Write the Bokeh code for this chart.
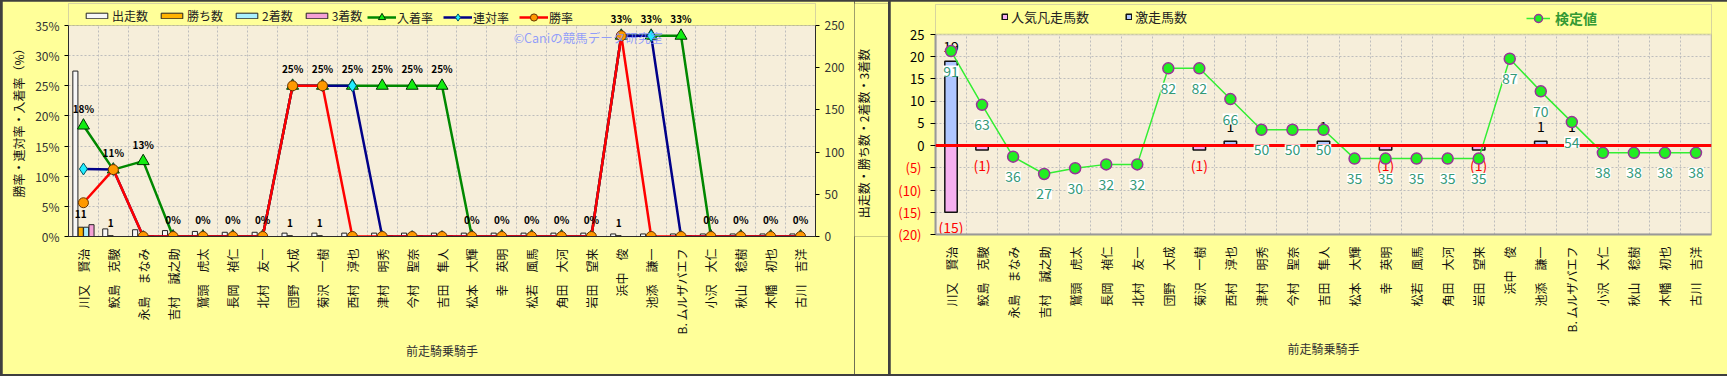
import math
from bokeh.plotting import figure
from bokeh.models import (ColumnDataSource, Range1d, FactorRange, LinearAxis,
                          FixedTicker, Legend, LegendItem, LabelSet, Label, Span,
                          PrintfTickFormatter, BoxAnnotation)
from bokeh.layouts import row
from bokeh.transform import dodge
from bokeh.embed import file_html
from bokeh.resources import INLINE
from bokeh.core.properties import value

JP = "Noto Sans CJK JP"

# ---------------- data ----------------
jockeys = ["川又　賢治", "鮫島　克駿", "永島　まなみ", "吉村　誠之助", "鷲頭　虎太",
           "長岡　禎仁", "北村　友一", "団野　大成", "菊沢　一樹", "西村　淳也",
           "津村　明秀", "今村　聖奈", "吉田　隼人", "松本　大輝", "幸　英明",
           "松若　風馬", "角田　大河", "岩田　望来", "浜中　俊", "池添　謙一",
           "B. ムルザバエフ", "小沢　大仁", "秋山　稔樹", "木幡　初也", "古川　吉洋"]

starts = [196, 9, 8, 7, 6, 5, 5, 4, 4, 4, 4, 4, 4, 4, 4, 4, 4, 4, 3, 3, 3, 3, 3, 3, 3]
wins = [11, 1, 0, 0, 0, 0, 0, 1, 1, 0, 0, 0, 0, 0, 0, 0, 0, 0, 1, 0, 0, 0, 0, 0, 0]
seconds = [11, 0, 0, 0, 0, 0, 0, 0, 0, 1, 0, 0, 0, 0, 0, 0, 0, 0, 0, 1, 0, 0, 0, 0, 0]
thirds = [14, 0, 1, 0, 0, 0, 0, 0, 0, 0, 1, 1, 1, 0, 0, 0, 0, 0, 0, 0, 1, 0, 0, 0, 0]

win_rate = [5.6, 11.1, 0, 0, 0, 0, 0, 25, 25, 0, 0, 0, 0, 0, 0, 0, 0, 0, 33.3, 0, 0, 0, 0, 0, 0]
quinella_rate = [11.2, 11.1, 0, 0, 0, 0, 0, 25, 25, 25, 0, 0, 0, 0, 0, 0, 0, 0, 33.3, 33.3, 0, 0, 0, 0, 0]
show_rate = [18.4, 11.1, 12.5, 0, 0, 0, 0, 25, 25, 25, 25, 25, 25, 0, 0, 0, 0, 0, 33.3, 33.3, 33.3, 0, 0, 0, 0]

kentei = [91, 63, 36, 27, 30, 32, 32, 82, 82, 66, 50, 50, 50, 35, 35, 35, 35, 35, 87, 70, 54, 38, 38, 38, 38]
gekisou = [19, 0, 0, 0, 0, 0, 0, 0, 0, 1, 0, 0, 1, 0, 0, 0, 0, 0, 0, 1, 1, 0, 0, 0, 0]
bonsou = [15, 1, 0, 0, 0, 0, 0, 0, 1, 0, 0, 0, 0, 0, 1, 0, 0, 1, 0, 0, 0, 0, 0, 0, 0]

pct_ticks = [0, 5, 10, 15, 20, 25, 30, 35]
count_ticks = [0, 50, 100, 150, 200, 250]
score_ticks = [-20, -15, -10, -5, 0, 5, 10, 15, 20, 25]
kentei_span = (-4.5, 99.6)   # hidden scale of the 検定値 line

PANEL = "#FFFF99"
PLOT_BG = "#F6EEDA"
GRID = "#BDBDBD"
n = len(jockeys)
C_START, C_WIN, C_2ND, C_3RD = "#F7F7F7", "#FFB300", "#A9F0FF", "#F5A0D5"


def extend(lo, hi, plot_px, extra_px):
    """range end so that [lo, hi] fills plot_px and extra_px of headroom remain above"""
    return hi + (hi - lo) * extra_px / plot_px


def leg(items, loc, gw, gh, lh, spacing, standoff, size, color, style="normal"):
    return Legend(items=items, orientation="horizontal", location=loc,
                  glyph_width=gw, glyph_height=gh, label_height=lh,
                  spacing=spacing, label_standoff=standoff, padding=0, margin=0,
                  background_fill_alpha=0, border_line_alpha=0,
                  label_text_font=JP, label_text_font_size=size,
                  label_text_color=color, label_text_font_style=style)


# ---------------- left chart ----------------
P1_PLOT, P1_HEAD = 211, 22
P1_TOP, P1_BOTTOM = 2, 138
src = ColumnDataSource(dict(
    jockey=jockeys, starts=starts, wins=wins, seconds=seconds, thirds=thirds,
    win_rate=win_rate, quin_rate=quinella_rate, show_rate=show_rate,
    show_lbl=[f"{int(r + 0.5)}%" for r in show_rate]))
wi = [i for i, w in enumerate(wins) if w > 0]
win_src = ColumnDataSource(dict(jockey=[jockeys[i] for i in wi],
                                wins=[wins[i] for i in wi],
                                lbl=[str(wins[i]) for i in wi]))

p1 = figure(width=852, height=373, x_range=FactorRange(factors=jockeys),
            y_range=Range1d(0, extend(0, 35, P1_PLOT, P1_HEAD)),
            output_backend="svg", toolbar_location=None,
            min_border_left=66, min_border_right=39, min_border_top=P1_TOP,
            min_border_bottom=P1_BOTTOM, background_fill_color=PLOT_BG,
            border_fill_color=PANEL, outline_line_color=None)
p1.title.visible = False
p1.extra_y_ranges = {"cnt": Range1d(0, extend(0, 250, P1_PLOT, P1_HEAD))}

p1.xgrid.ticker = FixedTicker(ticks=list(range(n + 1)))
p1.ygrid.ticker = FixedTicker(ticks=pct_ticks)
for g in (p1.xgrid, p1.ygrid):
    g.grid_line_color = GRID
    g.grid_line_dash = "2 2"

p1.yaxis.ticker = FixedTicker(ticks=pct_ticks)
p1.yaxis.bounds = (0, 35)
p1.yaxis.formatter = PrintfTickFormatter(format="%d%%")
p1.yaxis.axis_label = "勝率・連対率・入着率（%）"
p1.yaxis.minor_tick_line_color = None
p1.yaxis.major_tick_in = 0
p1.yaxis.major_tick_out = 4

ax_r = LinearAxis(y_range_name="cnt", ticker=FixedTicker(ticks=count_ticks),
                  bounds=(0, 250))
ax_r.major_tick_in = 0
ax_r.major_tick_out = 4
ax_r.minor_tick_line_color = None
p1.add_layout(ax_r, "right")

p1.xaxis.axis_label = "前走騎乗騎手"
p1.xaxis.major_label_orientation = math.pi / 2
p1.xaxis.major_tick_line_color = None
p1.xaxis.major_label_standoff = 6

for ax in p1.yaxis + p1.xaxis:
    ax.axis_line_color = "#222222"
    ax.major_label_text_font = JP
    ax.axis_label_text_font = JP
    ax.axis_label_text_font_style = "normal"
    ax.axis_label_text_font_size = "12px"
for ax in p1.yaxis:
    ax.major_label_text_font_size = "12px"
    ax.major_label_text_color = "#333333"
    ax.axis_label_text_color = "#111111"
p1.xaxis.major_label_text_font_size = "12px"
p1.xaxis.major_label_text_color = "#111111"
p1.xaxis.axis_label_text_color = "#333333"

bw = 0.17
bar_items = []
for lbl, col, off, c in [("出走数", "starts", -0.27, C_START), ("勝ち数", "wins", -0.09, C_WIN),
                         ("2着数", "seconds", 0.09, C_2ND), ("3着数", "thirds", 0.27, C_3RD)]:
    r = p1.vbar(x=dodge("jockey", off, range=p1.x_range), top=col, width=bw,
                source=src, y_range_name="cnt", fill_color=c,
                line_color="#222222", line_width=1)
    bar_items.append(LegendItem(label=lbl, renderers=[r]))

LINE_STYLES = [
    ("入着率", "show_rate", "#008800", "triangle", 12, "#11EE11", "#003300"),
    ("連対率", "quin_rate", "#000088", "diamond", 12, "#22EEFF", "#005566"),
    ("勝率", "win_rate", "#FF0000", "circle", 10, "#FF9900", "#663300"),
]
line_items = []
for lbl, col, lc, mk, sz, fc, oc in LINE_STYLES:
    rl = p1.line(x="jockey", y=col, source=src, line_color=lc, line_width=2.5)
    rm = p1.scatter(x="jockey", y=col, source=src, marker=mk, size=sz,
                    fill_color=fc, line_color=oc, line_width=1)
    line_items.append(LegendItem(label=lbl, renderers=[rl, rm]))

# headroom above the plot area painted as panel, then the plot-area border
p1.add_layout(BoxAnnotation(bottom=35, top=p1.y_range.end, fill_color=PANEL,
                            fill_alpha=1, line_alpha=0))
p1.add_layout(BoxAnnotation(bottom=0, top=35, fill_alpha=0, line_color="#666666",
                            line_width=1))

p1.add_layout(LabelSet(x="jockey", y="show_rate", text="show_lbl", source=src,
                       y_offset=17, text_align="center", text_baseline="middle",
                       text_font=value(JP), text_font_size="10px",
                       text_font_style="bold", text_color="#000000"))
p1.add_layout(LabelSet(x=dodge("jockey", -0.09, range=p1.x_range), y="wins",
                       y_range_name="cnt", text="lbl", source=win_src,
                       y_offset=13, text_align="center", text_baseline="middle",
                       text_font=value(JP), text_font_size="10px",
                       text_font_style="bold", text_color="#000000"))
p1.add_layout(Label(x=14.9, y=33.0, text="©Caniの競馬データ研究室", text_align="left",
                    text_baseline="middle", text_color="#7F8FFF", text_alpha=0.85,
                    text_font=JP, text_font_size="12.5px"))

p1.add_layout(leg(bar_items, (15, 212), 27, 7, 14, 10, 2, "12px", "#222222"))
p1.add_layout(leg(line_items, (299, 210), 29, 18, 18, 10, 1, "12px", "#222222"))

# strip holding the count-axis title (reads bottom to top); same borders as p1
p1b = figure(width=34, height=373, x_range=Range1d(0, 34), y_range=Range1d(0, 1),
             output_backend="svg", toolbar_location=None,
             min_border_left=0, min_border_right=0, min_border_top=P1_TOP,
             min_border_bottom=P1_BOTTOM, background_fill_color=PANEL,
             border_fill_color=PANEL, outline_line_color=None)
p1b.axis.visible = False
p1b.grid.visible = False
p1b.title.visible = False
p1b.add_layout(Label(x=9, y=0.442, text="出走数・勝ち数・2着数・3着数", angle=math.pi / 2,
                     text_align="center", text_baseline="middle", text_font=JP,
                     text_font_size="12px", text_color="#111111"))

# ---------------- right chart ----------------
P2_PLOT, P2_HEAD = 200, 30
src2 = ColumnDataSource(dict(jockey=jockeys, kentei=kentei, gekisou=gekisou,
                             bonsou_neg=[-b for b in bonsou],
                             klbl=[str(k) for k in kentei]))
gi = [i for i, g in enumerate(gekisou) if g > 0]
gek_src = ColumnDataSource(dict(jockey=[jockeys[i] for i in gi],
                                v=[gekisou[i] for i in gi],
                                lbl=[str(gekisou[i]) for i in gi]))
bi = [i for i, b in enumerate(bonsou) if b > 0]
bon_src = ColumnDataSource(dict(jockey=[jockeys[i] for i in bi],
                                v=[-bonsou[i] for i in bi],
                                lbl=[f"({bonsou[i]})" for i in bi]))

y_lo, y_hi = score_ticks[0], score_ticks[-1]
p2 = figure(width=837, height=373, x_range=FactorRange(factors=jockeys),
            y_range=Range1d(y_lo, extend(y_lo, y_hi, P2_PLOT, P2_HEAD)),
            output_backend="svg", toolbar_location=None,
            min_border_left=45, min_border_right=16, min_border_top=3,
            min_border_bottom=140, background_fill_color=PLOT_BG,
            border_fill_color=PANEL, outline_line_color=None)
p2.title.visible = False
p2.extra_y_ranges = {"kt": Range1d(kentei_span[0],
                                   extend(kentei_span[0], kentei_span[1], P2_PLOT, P2_HEAD))}

p2.xgrid.ticker = FixedTicker(ticks=list(range(n + 1)))
p2.ygrid.ticker = FixedTicker(ticks=score_ticks)
for g in (p2.xgrid, p2.ygrid):
    g.grid_line_color = GRID
    g.grid_line_dash = "2 2"

p2.yaxis.ticker = FixedTicker(ticks=score_ticks)
p2.yaxis.bounds = (y_lo, y_hi)
p2.yaxis.major_label_overrides = {t: "" for t in score_ticks if t < 0}
p2.yaxis.minor_tick_line_color = None
p2.yaxis.major_tick_in = 0
p2.yaxis.major_tick_out = 5
p2.yaxis.major_label_standoff = 6
p2.yaxis.major_label_text_font = JP
p2.yaxis.major_label_text_font_size = "13px"
p2.yaxis.major_label_text_color = "#000000"
p2.yaxis.axis_line_color = "#999999"
p2.yaxis.axis_line_width = 2

# second (outer) left axis carrying the red bracketed negative labels,
# pulled back in with a negative standoff so both label columns align
ax_neg = LinearAxis(ticker=FixedTicker(ticks=score_ticks), bounds=(y_lo, y_hi),
                    major_label_overrides={t: (f"({-t})" if t < 0 else "") for t in score_ticks})
ax_neg.major_label_text_color = "#FF0000"
ax_neg.major_label_text_font = JP
ax_neg.major_label_text_font_size = "13px"
ax_neg.axis_line_color = None
ax_neg.major_tick_line_color = None
ax_neg.minor_tick_line_color = None
ax_neg.major_tick_in = 0
ax_neg.major_tick_out = 0
ax_neg.major_label_standoff = -14
p2.add_layout(ax_neg, "left")

p2.xaxis.axis_label = "前走騎乗騎手"
p2.xaxis.major_label_orientation = math.pi / 2
p2.xaxis.major_tick_line_color = None
p2.xaxis.major_label_standoff = 6
p2.xaxis.major_label_text_font = JP
p2.xaxis.major_label_text_font_size = "12px"
p2.xaxis.major_label_text_color = "#111111"
p2.xaxis.axis_label_text_font = JP
p2.xaxis.axis_label_text_font_style = "normal"
p2.xaxis.axis_label_text_font_size = "12px"
p2.xaxis.axis_label_text_color = "#333333"
p2.xaxis.axis_line_color = "#999999"
p2.xaxis.axis_line_width = 2

C_BON, C_GEK = "#F6B0F0", "#AFC6FF"
rb = p2.vbar(x="jockey", top="bonsou_neg", bottom=0, width=0.4, source=src2,
             fill_color=C_BON, line_color="#111111", line_width=1.5)
rg = p2.vbar(x="jockey", top="gekisou", bottom=0, width=0.4, source=src2,
             fill_color=C_GEK, line_color="#111111", line_width=1.5)

p2.text(x="jockey", y="v", text="lbl", source=gek_src, y_offset=-15,
        text_align="center", text_baseline="middle", text_font=value(JP),
        text_font_size="14px", text_color="#000000")
p2.text(x="jockey", y="v", text="lbl", source=bon_src, y_offset=15,
        text_align="center", text_baseline="middle", text_font=value(JP),
        text_font_size="14px", text_color="#FF0000")

K_LINE, K_FILL, K_EDGE = "#33EE33", "#22EE22", "#993399"
kl = p2.line(x="jockey", y="kentei", source=src2, y_range_name="kt",
             line_color=K_LINE, line_width=1.5)
km = p2.scatter(x="jockey", y="kentei", source=src2, y_range_name="kt",
                marker="circle", size=11, fill_color=K_FILL,
                line_color=K_EDGE, line_width=1.5)

p2.add_layout(BoxAnnotation(bottom=y_hi, top=p2.y_range.end, fill_color=PANEL,
                            fill_alpha=1, line_alpha=0))
p2.add_layout(BoxAnnotation(bottom=y_lo, top=y_hi, fill_alpha=0, line_color="#999999",
                            line_width=2))
p2.add_layout(Span(location=0, dimension="width", line_color="#FF0000", line_width=3))

p2.add_layout(LabelSet(x="jockey", y="kentei", y_range_name="kt", text="klbl",
                       source=src2, y_offset=-20, text_align="center",
                       text_baseline="middle", text_font=value(JP),
                       text_font_size="14px", text_color="#339977",
                       background_fill_color="#FFFFFF"))

p2.add_layout(leg([LegendItem(label="人気凡走馬数", renderers=[rb]),
                   LegendItem(label="激走馬数", renderers=[rg])],
                  (66, 208), 7, 7, 15, 36, 3, "13px", "#222222"))
p2.add_layout(leg([LegendItem(label="検定値", renderers=[kl, km])],
                  (591, 206), 24, 20, 15, 0, 5, "14px", "#339933", "bold"))

layout = row(row(p1, p1b), p2, spacing=2,
             styles={"background-color": "#3F3F3F", "padding": "1px 0px 2px 2px"})

open("out.html", "w").write(file_html(layout, INLINE))
